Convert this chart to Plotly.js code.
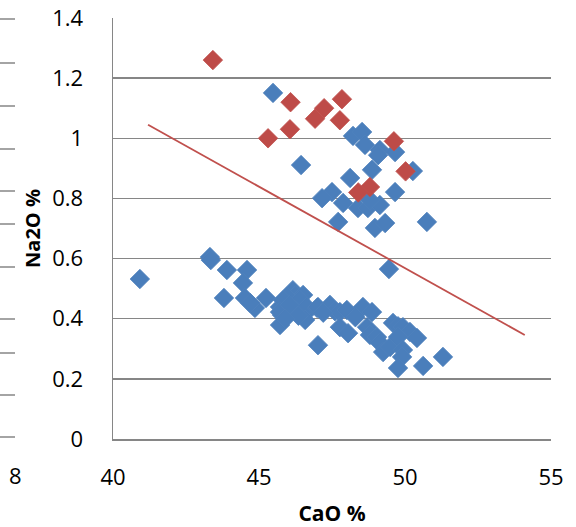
<!DOCTYPE html>
<html>
<head>
<meta charset="utf-8">
<script src="https://cdn.plot.ly/plotly-3.0.1.min.js"></script>
<style>html,body{margin:0;padding:0;background:#fff;}#chart{width:576px;height:527px;}</style>
</head>
<body>
<div id="chart"></div>
<script>
// Blue series (CaO %, Na2O %)
const blueCaO = [
  45.48, 46.44, 48.22, 48.53, 48.63, 49.14, 49.66, 49.08, 48.87, 50.27,
  48.12, 49.66, 47.50, 47.16, 47.88, 48.39, 48.73, 49.14, 48.80, 47.71,
  48.97, 49.32, 50.75, 49.45,
  40.92, 43.32, 43.35, 43.90, 44.59, 44.45, 43.80, 44.52, 44.86, 44.70,
  45.24, 45.72, 46.16, 46.25, 46.51, 45.96, 45.82, 46.40, 45.79, 45.72,
  45.72, 46.23, 46.64, 46.64, 46.99, 46.58, 47.02, 47.43, 47.60, 47.77,
  48.01, 48.56, 48.87, 47.77, 48.05, 47.02, 48.70, 48.80, 49.04, 49.14,
  49.25, 49.49, 49.59, 49.76, 49.93, 50.17, 50.41, 49.76, 49.93, 49.90,
  49.76, 50.62, 51.30, 46.05, 46.35, 45.90, 47.20, 48.30
];
const blueNa2O = [
  1.151, 0.911, 1.008, 1.021, 0.978, 0.961, 0.954, 0.944, 0.895, 0.891,
  0.868, 0.821, 0.821, 0.801, 0.785, 0.768, 0.768, 0.778, 0.795, 0.722,
  0.702, 0.718, 0.722, 0.565,
  0.532, 0.605, 0.595, 0.562, 0.562, 0.519, 0.469, 0.469, 0.436, 0.452,
  0.469, 0.439, 0.495, 0.478, 0.479, 0.472, 0.462, 0.462, 0.412, 0.379,
  0.422, 0.429, 0.422, 0.439, 0.436, 0.396, 0.439, 0.446, 0.425, 0.422,
  0.429, 0.439, 0.422, 0.372, 0.352, 0.312, 0.372, 0.346, 0.339, 0.319,
  0.289, 0.306, 0.386, 0.375, 0.372, 0.356, 0.336, 0.339, 0.296, 0.273,
  0.236, 0.243, 0.273, 0.445, 0.410, 0.400, 0.420, 0.405
];
// Red series
const redCaO  = [43.42, 46.08, 46.06, 45.31, 47.23, 46.92, 47.84, 47.77, 49.62, 50.02, 48.80, 48.40];
const redNa2O = [1.260, 1.120, 1.030, 1.000, 1.100, 1.065, 1.130, 1.060, 0.990, 0.890, 0.838, 0.820];
// Trend line
const trendCaO  = [41.2, 54.1];
const trendNa2O = [1.045, 0.346];

const xTicks = [40, 45, 50, 55];
const yTicks = [0, 0.2, 0.4, 0.6, 0.8, 1, 1.2, 1.4];

// Fragment of neighbouring chart at left edge (pixel rows of its tick marks)
const fragTickRows = [19, 63, 106, 149, 191, 224, 267, 319, 353, 395, 437];

const L = 113, R = 551, T = 18, B = 439;
const W = 576, H = 527;
const px2paperX = p => (p - L) / (R - L);
const py2paperY = p => (B - p) / (B - T);

const gray = '#868686';
const font = '"Open Sans", sans-serif';

const shapes = fragTickRows.map(r => ({
  type: 'line', xref: 'paper', yref: 'paper',
  x0: px2paperX(0), x1: px2paperX(15), y0: py2paperY(r), y1: py2paperY(r),
  line: {color: gray, width: 1.5}
}));

const data = [
  {x: blueCaO, y: blueNa2O, type: 'scatter', mode: 'markers',
   marker: {symbol: 'diamond', size: 15, color: '#4a7ebb', line: {color: '#4f81bd', width: 0.8}},
   hoverinfo: 'skip', cliponaxis: false},
  {x: redCaO, y: redNa2O, type: 'scatter', mode: 'markers',
   marker: {symbol: 'diamond', size: 15, color: '#be4b48', line: {color: '#c0504d', width: 0.8}},
   hoverinfo: 'skip', cliponaxis: false},
  {x: trendCaO, y: trendNa2O, type: 'scatter', mode: 'lines',
   line: {color: '#c0504d', width: 1.8}, hoverinfo: 'skip'}
];

const layout = {
  width: W, height: H,
  margin: {l: L, r: W - R, t: T, b: H - B},
  paper_bgcolor: '#fff', plot_bgcolor: '#fff',
  showlegend: false,
  font: {family: font, color: '#000', size: 21},
  xaxis: {
    range: [40, 55], tickmode: 'array', tickvals: xTicks, ticktext: xTicks.map(String),
    showgrid: false, zeroline: false, showline: true, linecolor: gray, linewidth: 1.5,
    ticks: '', ticklabelstandoff: 18, tickfont: {family: font, size: 22, color: '#000'},
    title: {text: 'CaO %', font: {family: font, size: 21, color: '#000', weight: 'bold'}, standoff: 20},
    automargin: false, fixedrange: true
  },
  yaxis: {
    range: [0, 1.4], tickmode: 'array', tickvals: yTicks, ticktext: yTicks.map(String),
    showgrid: true, gridcolor: gray, gridwidth: 1.3, zeroline: false,
    showline: true, linecolor: gray, linewidth: 1.5,
    ticks: '', ticklabelstandoff: 24, tickfont: {family: font, size: 22, color: '#000'},
    title: {text: 'Na2O %', font: {family: font, size: 20, color: '#000', weight: 'bold'}, standoff: 6},
    automargin: false, fixedrange: true
  },
  shapes: shapes,
  annotations: [
    {xref: 'paper', yref: 'paper', x: px2paperX(15), y: py2paperY(475), text: '8',
     showarrow: false, xanchor: 'center', yanchor: 'middle', font: {family: font, size: 22, color: '#000'}}
  ]
};

Plotly.newPlot('chart', data, layout, {staticPlot: true, displayModeBar: false});
</script>
</body>
</html>
